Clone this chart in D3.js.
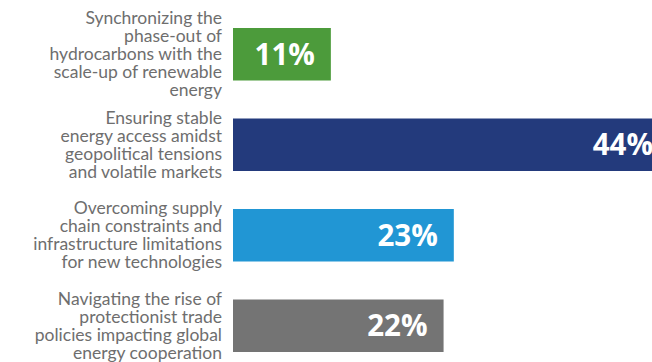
<!DOCTYPE html>
<html>
<head>
<meta charset="utf-8">
<script src="https://cdn.jsdelivr.net/npm/d3@7"></script>
<style>
html,body{margin:0;padding:0;background:#fff;overflow:hidden;}
svg{display:block;}
</style>
</head>
<body>
<svg id="chart" width="652" height="362"></svg>
<script>
const categories = [
  ["Synchronizing the", "phase-out of", "hydrocarbons with the", "scale-up of renewable", "energy"],
  ["Ensuring stable", "energy access amidst", "geopolitical tensions", "and volatile markets"],
  ["Overcoming supply", "chain constraints and", "infrastructure limitations", "for new technologies"],
  ["Navigating the rise of", "protectionist trade", "policies impacting global", "energy cooperation"]
];
const values = [11, 44, 23, 22];
const valueLabels = ["11%", "44%", "23%", "22%"];
const colors = ["#4c9b3b", "#233a7c", "#2196d4", "#747474"];

const svg = d3.select("#chart");
const ids = d3.range(values.length);

const y = d3.scaleBand().domain(ids).range([9, 371]).paddingInner(0.42).paddingOuter(0.21);
const x = d3.scaleLinear().domain([1.45, 44]).range([233, 669]);

const bh = 52.5;
const g = svg.append("g");

g.selectAll("rect").data(ids).join("rect")
  .attr("x", x(1.45))
  .attr("y", i => y(i) + y.bandwidth()/2 - bh/2)
  .attr("width", i => x(values[i]) - x(1.45))
  .attr("height", bh)
  .attr("fill", i => colors[i]);

g.selectAll("text.val").data(ids).join("text")
  .attr("class", "val")
  .attr("x", i => x(values[i]) - 16)
  .attr("y", i => y(i) + y.bandwidth()/2)
  .attr("dy", "0.36em")
  .attr("text-anchor", "end")
  .attr("fill", "#fff")
  .style("font-family", "'Open Sans', sans-serif")
  .style("font-weight", 700)
  .style("font-size", "29.5px")
  .text(i => valueLabels[i]);

const lh = 18;
const lab = g.selectAll("text.lab").data(ids).join("text")
  .attr("class", "lab")
  .attr("text-anchor", "end")
  .attr("fill", "#6e6e6e")
  .style("font-family", "Lato, sans-serif")
  .style("font-size", "17.5px");

lab.each(function(i) {
  const lines = categories[i];
  const cy = y(i) + y.bandwidth()/2;
  const top = cy - (lines.length - 1) * lh / 2;
  d3.select(this).selectAll("tspan").data(lines).join("tspan")
    .attr("x", 222)
    .attr("y", (d, k) => top + k * lh)
    .attr("dy", "0.35em")
    .text(d => d);
});
</script>
</body>
</html>
